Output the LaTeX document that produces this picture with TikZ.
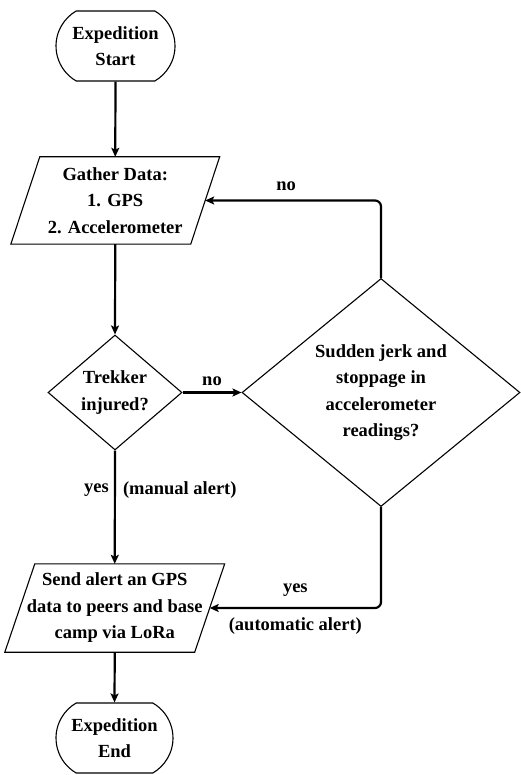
\documentclass[tikz,border=0pt]{standalone}
\usepackage{fontspec}
\setmainfont{Liberation Serif}
\usetikzlibrary{shapes.geometric,shapes.misc,arrows.meta,calc}
\begin{document}
\begin{tikzpicture}[x=1pt,y=-1pt,
  every node/.style={font=\fontsize{18.5}{26.5}\selectfont\bfseries, align=center, inner sep=0pt},
  term/.style={draw, line width=1.1pt, rounded rectangle, rounded rectangle arc length=120, minimum width=119pt, minimum height=70pt},
  iobox/.style={rectangle, minimum height=87pt},
  pgram/.style={line width=1.1pt},
  decision/.style={draw, line width=1.1pt, diamond},
  flow/.style={line width=2.2pt, -{Stealth[length=9pt,width=8pt,inset=2pt]}},
  lbl/.style={inner sep=0pt}
]
\useasboundingbox (0,0) rectangle (520,775);

\node[term] (start) at (115.5,46) {Expedition\\Start};
\node[iobox, minimum width=179.5pt] (gather) at (115.25,200.5) {Gather Data:\\1. GPS\\2. Accelerometer};
\draw[pgram] ($(gather.south west)+(-14.5,0)$) -- ($(gather.south east)+(-14.5,0)$) -- ($(gather.north east)+(14.5,0)$) -- ($(gather.north west)+(14.5,0)$) -- cycle;
\node[decision, minimum width=134pt, minimum height=115pt] (trek) at (115,392.5) {Trekker\\injured?};
\node[decision, minimum width=278pt, minimum height=195pt] (big) at (381,392.5) {Sudden jerk and\\stoppage in\\accelerometer\\readings?};
\node[iobox, minimum width=189.5pt, minimum height=88pt] (send) at (114.75,608) {Send alert an GPS\\data to peers and base\\camp via LoRa};
\draw[pgram] ($(send.south west)+(-15,0)$) -- ($(send.south east)+(-15,0)$) -- ($(send.north east)+(15,0)$) -- ($(send.north west)+(15,0)$) -- cycle;
\node[term, minimum width=117pt] (end) at (114.5,738) {Expedition\\End};

\draw[flow] (start.south) -- (gather.north);
\draw[flow] (gather.south) -- (trek.north);
\draw[flow] (trek.east) -- node[lbl, above=6pt] {no} (big.west);
\draw[flow, rounded corners=6pt] (big.north) |- node[lbl, pos=0.77, above=9pt] {no} (gather.east);
\draw[flow] (trek.south) -- node[lbl, pos=0.35, left=5pt] {yes} node[lbl, pos=0.35, right=7pt] {(manual alert)} (send.north);
\draw[flow, rounded corners=6pt] (big.south) |- node[lbl, pos=0.75, above=10pt] {yes} node[lbl, pos=0.75, below=9pt] {(automatic alert)} (send.east);
\draw[flow] (send.south) -- (end.north);
\end{tikzpicture}
\end{document}
